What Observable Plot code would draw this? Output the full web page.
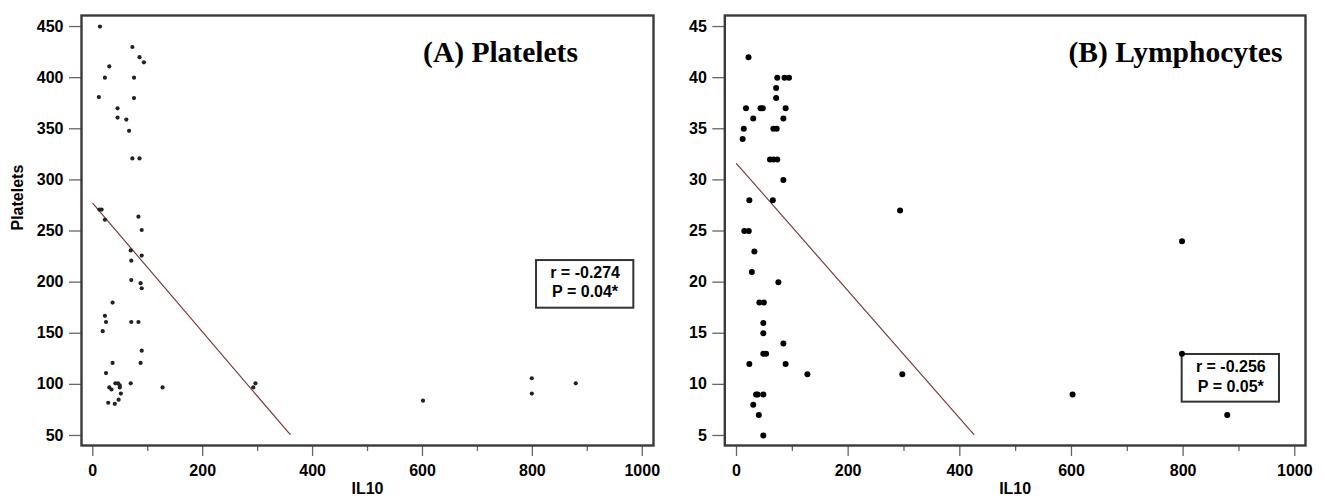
<!DOCTYPE html>
<html><head><meta charset="utf-8">
<script src="https://cdn.jsdelivr.net/npm/d3@7"></script>
<script src="https://cdn.jsdelivr.net/npm/@observablehq/plot@0.6"></script>
<style>
html,body{margin:0;padding:0;background:#fff;}
#wrap{display:flex;width:1323px;height:504px;overflow:hidden;}
#wrap svg{display:block;flex:none;}
#wrap svg text{font-weight:bold;}
</style></head><body><div id="wrap"></div>
<script>
// Panel A: IL10 vs Platelets
const platIL10 = [13,72,85,93,30,22,75,11,75,45,45,61,66,72,85,12,16,22,83,89,69,89,70,70,87,89,36,22,24,18,70,83,89,36,87,24,41,46,49,49,69,30,34,51,47,28,40,127,292,296,601,799,799,879];
const platelets = [450,430,420,415,411,400,400,381,380,370,361,359,348,321,321,271,271,261,264,251,231,226,221,202,199,194,180,167,161,152,161,161,133,121,121,111,101,101,99,97,101,97,95,91,85,82,81,97,97,101,84,106,91,101];
const fitA_x = [0, 359];
const fitA_y = [277, 51];
const statsA = ["r = -0.274", "P = 0.04*"];

// Panel B: IL10 vs Lymphocytes
const lymIL10 = [21.5,73,86,94,71,71,17,43,47,88,30,84,13,66,72,11,60,66,73,84,23,65,293,14,22,798,32,27.5,75,41,49,48,48,84,48,53,798,23,88,127,297,35,38,48,602,30,40,879,48];
const lymphocytes = [42,40,40,40,39,38,37,37,37,37,36,36,35,35,35,34,32,32,32,30,28,28,27,25,25,24,23,21,20,18,18,16,15,14,13,13,13,12,12,11,11,9,9,9,9,8,7,7,5];
const fitB_x = [0, 425];
const fitB_y = [31.6, 5.1];
const statsB = ["r = -0.256", "P = 0.05*"];

const xMajor = [0,200,400,600,800,1000];
const xMinor = [100,300,500,700,900];
const yTicksA = [50,100,150,200,250,300,350,400,450];
const yTicksB = [5,10,15,20,25,30,35,40,45];

const ptsA = platIL10.map((x,i)=>({x, y: platelets[i]}));
const ptsB = lymIL10.map((x,i)=>({x, y: lymphocytes[i]}));
const fitA = fitA_x.map((x,i)=>({x, y: fitA_y[i]}));
const fitB = fitB_x.map((x,i)=>({x, y: fitB_y[i]}));

const sans = "'Liberation Sans', Arial, sans-serif";
const serif = "'Liberation Serif', 'Times New Roman', serif";

function panel(o) {
  return Plot.plot({
    width: o.width, height: 504,
    marginLeft: o.ml, marginRight: o.mr, marginTop: 15, marginBottom: 59,
    style: {fontFamily: sans, fontSize: "16px", fontWeight: "bold", color: "#111", background: "#fff", overflow: "visible"},
    x: {domain: o.xd},
    y: {domain: o.yd},
    marks: [
      Plot.axisY({ticks: o.yTicks, tickSize: 12, tickPadding: 6, label: null, stroke: "#666", strokeWidth: 1.3, fill: "#000", fontWeight: "bold", fontSize: 16, tickFormat: d => String(d)}),
      Plot.axisX({ticks: xMajor, tickSize: 11, tickPadding: 8, label: null, stroke: "#666", strokeWidth: 1.3, fill: "#000", fontWeight: "bold", fontSize: 16, tickFormat: d => String(d)}),
      Plot.axisX({ticks: xMinor, tickSize: 6, label: null, stroke: "#666", strokeWidth: 1.3, tickFormat: () => ""}),
      Plot.line(o.fit, {x: "x", y: "y", stroke: "#7a3c3c", strokeWidth: 1.2}),
      Plot.rect([0], {x1: o.box[0], x2: o.box[1], y1: o.box[2], y2: o.box[3], fill: "#fff", stroke: "#333", strokeWidth: 2}),
      Plot.text(o.stats, {x: o.statX, y: (d,i) => o.statY[i], text: d => d, fontSize: 16, fontWeight: "bold", fill: "#000"}),
      Plot.dot(o.pts, {x: "x", y: "y", r: o.r, fill: o.dotFill, stroke: null}),
      Plot.text([o.title], {x: o.titleX, y: o.titleY, text: d => d, fontFamily: serif, fontSize: 29.5, fontWeight: "bold", fill: "#000"}),
      Plot.text(["IL10"], {frameAnchor: "bottom", dy: 48, text: d => d, fontSize: 16, fontWeight: "bold", fill: "#000"}),
      ...(o.ylab ? [Plot.text([o.ylab], {frameAnchor: "left", dx: -64, rotate: -90, text: d => d, fontSize: 16, fontWeight: "bold", fill: "#000"})] : []),
      Plot.frame({stroke: "#3a3a3a", strokeWidth: 2.4})
    ]
  });
}

const wrap = document.getElementById("wrap");
wrap.appendChild(panel({
  width: 660, ml: 81, mr: 7,
  xd: [-20.6, 1020.5], yd: [40.2, 460.8], yTicks: yTicksA,
  fit: fitA, pts: ptsA, r: 2.1, dotFill: "#222",
  box: [807.6, 984.7, 221.1, 174.5], stats: statsA, statX: 896, statY: [208.7, 190.2],
  title: "(A) Platelets", titleX: 742, titleY: 424.6, ylab: "Platelets"
}));
wrap.appendChild(panel({
  width: 663, ml: 64.3, mr: 18,
  xd: [-20.96, 1019.2], yd: [4.02, 46.08], yTicks: yTicksB,
  fit: fitB, pts: ptsB, r: 3, dotFill: "#000",
  box: [798.3, 972.6, 12.92, 8.26], stats: statsB, statX: 885.4, statY: [11.68, 9.72],
  title: "(B) Lymphocytes", titleX: 786.3, titleY: 42.46, ylab: null
}));
</script>
</body></html>
